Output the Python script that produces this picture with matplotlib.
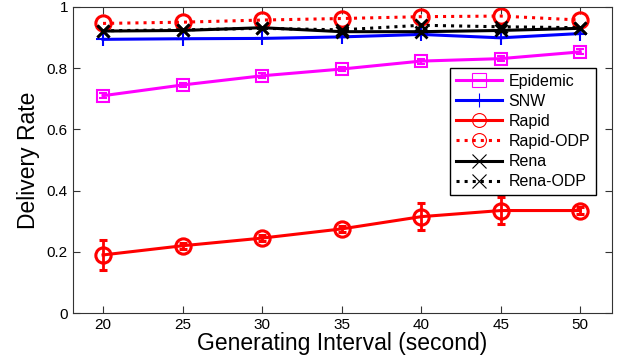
import matplotlib
matplotlib.use("Agg")
import matplotlib.pyplot as plt
from matplotlib.lines import Line2D

plt.rcParams["font.family"] = ["Liberation Sans", "DejaVu Sans"]

interval = [20, 25, 30, 35, 40, 45, 50]

epidemic = [0.710, 0.745, 0.775, 0.797, 0.823, 0.831, 0.853]
epidemic_err = [0.008, 0.008, 0.008, 0.008, 0.008, 0.008, 0.008]
snw = [0.894, 0.896, 0.897, 0.902, 0.910, 0.899, 0.913]
rapid = [0.190, 0.220, 0.245, 0.275, 0.315, 0.335, 0.335]
rapid_err = [0.050, 0.010, 0.010, 0.010, 0.045, 0.045, 0.010]
rapid_odp = [0.946, 0.950, 0.957, 0.962, 0.968, 0.970, 0.957]
rena = [0.921, 0.923, 0.932, 0.919, 0.919, 0.923, 0.930]
rena_odp = [0.922, 0.925, 0.930, 0.925, 0.940, 0.935, 0.932]

names = ["Epidemic", "SNW", "Rapid", "Rapid-ODP", "Rena", "Rena-ODP"]
colors = ["#ff00ff", "#0000ff", "#ff0000", "#ff0000", "black", "black"]
styles = ["-", "-", "-", ":", "-", ":"]
markers = ["s", "+", "o", "o", "x", "x"]

fig = plt.figure(figsize=(6.17, 3.62), dpi=100)
ax = fig.add_axes([0.118, 0.135, 0.874, 0.846])

ax.errorbar(interval, epidemic, yerr=epidemic_err, color=colors[0], marker="s", ms=9, mfc="none",
            mew=1.5, lw=2.2, capsize=3, elinewidth=1.5)
ax.plot(interval, snw, color=colors[1], marker="+", ms=10, mew=1.5, lw=2.2)
ax.errorbar(interval, rapid, yerr=rapid_err, color=colors[2], marker="o", ms=11, mfc="none",
            mew=2.2, lw=2.2, capsize=3, elinewidth=2, capthick=2)
ax.plot(interval, rapid_odp, color=colors[3], ls=":", marker="o", ms=11, mfc="none", mew=2.2, lw=2.2)
ax.plot(interval, rena, color=colors[4], marker="x", ms=9, mew=2, lw=2.2)
ax.plot(interval, rena_odp, color=colors[5], ls=":", marker="x", ms=9, mew=2, lw=2.2)

ax.set_xlim(18.1, 52)
ax.set_ylim(0, 1)
ax.set_xticks(interval)
ax.set_yticks([0, 0.2, 0.4, 0.6, 0.8, 1])
ax.set_yticklabels(["0", "0.2", "0.4", "0.6", "0.8", "1"])
ax.tick_params(direction="in", top=True, right=True, labelsize=11, length=5, color="#333333")
for s in ax.spines.values():
    s.set_color("#333333")

ax.set_xlabel("Generating Interval (second)", fontsize=16.5, labelpad=0)
ax.set_ylabel("Delivery Rate", fontsize=16.5, labelpad=5)

handles = [Line2D([], [], color=c, ls=st, marker=m, ms=10, mfc="none", mew=0.8, lw=2.2)
           for c, st, m in zip(colors, styles, markers)]
leg = ax.legend(handles, names, loc="upper right", bbox_to_anchor=(0.970, 0.80), fontsize=11.5,
                fancybox=False, edgecolor="black", framealpha=1, handlelength=2.9, borderpad=0.35,
                labelspacing=0.32, handletextpad=0.4, borderaxespad=0)
leg.get_frame().set_linewidth(1)

fig.savefig("out.png", dpi=100)
